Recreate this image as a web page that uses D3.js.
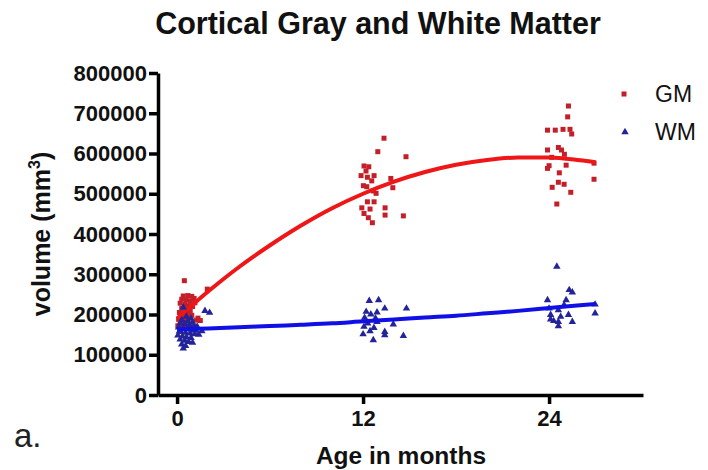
<!DOCTYPE html>
<html><head><meta charset="utf-8">
<script src="https://cdn.jsdelivr.net/npm/d3@7"></script>
<style>body{margin:0;background:#fff}svg{display:block}</style>
</head><body><svg id="c" width="708" height="470"></svg>
<script>
const chartTitle = "Cortical Gray and White Matter";
const xTicks = [0, 12, 24];
const yTicks = [0, 100000, 200000, 300000, 400000, 500000, 600000, 700000, 800000];
const seriesNames = ["GM", "WM"];

// GM (gray matter) observations: [age in months, volume mm^3]
const gmPoints = [
  [0.47,284000],[1.95,263000],[0.4,246000],[0.7,247000],[0.95,245000],[1.1,240000],
  [0.3,238000],[0.6,236000],[0.85,233000],[1.15,229000],[0.2,228000],[0.5,225000],
  [0.75,222000],[1.0,220000],[0.3,215000],[0.55,212000],[0.85,210000],[0.15,205000],
  [0.45,202000],[0.7,200000],[0.95,198000],[0.25,195000],[0.5,192000],[0.1,188000],
  [0.35,185000],[0.6,183000],[1.35,191000],[1.25,186000],[0.2,178000],[0.45,175000],
  [0.05,172000],[0.3,168000],[0.65,180000],[1.5,185000],
  [13.35,638000],[12.95,604500],[14.77,592000],[12.06,569000],[12.37,567000],[12.19,556500],
  [11.87,545000],[12.28,541000],[12.71,545000],[12.56,532000],[13.79,538000],[12.02,520000],
  [12.24,517500],[13.92,515000],[12.66,507000],[12.84,501000],[12.28,480000],[12.71,480000],
  [11.92,465000],[12.45,462000],[13.42,465000],[12.06,451000],[13.42,447000],[14.6,445000],
  [12.34,440500],[12.6,428000],
  [25.25,718000],[25.2,691000],[23.9,658000],[24.4,658000],[24.9,660000],[25.35,660000],
  [25.46,648500],[23.9,608700],[24.6,615000],[24.8,608700],[24.99,598000],[24.17,590500],
  [26.9,576000],[25.1,571000],[24.0,569700],[23.9,563000],[24.66,552000],[26.9,536000],
  [24.6,528500],[24.97,523500],[24.2,516000],[25.4,503600],[24.5,474500]
];

// WM (white matter) observations: [age in months, volume mm^3]
const wmPoints = [
  [1.8,209000],[2.1,204500],[0.4,218000],[0.6,195000],[0.9,190000],[0.3,186000],
  [0.7,184000],[1.0,180000],[0.2,178000],[0.5,176000],[0.8,174000],[1.1,172000],
  [1.3,170000],[0.1,168000],[0.4,166000],[0.65,164000],[0.95,162000],[1.2,160000],
  [1.6,159000],[0.25,157000],[0.55,155000],[0.85,153000],[1.15,151000],[0.05,148000],
  [0.35,146000],[0.6,144000],[0.9,142000],[0.2,138000],[0.5,135000],[0.75,132000],
  [1.0,130000],[0.3,126000],[0.55,122000],[0.4,116000],[1.4,150000],[0.15,158000],
  [12.4,234000],[13.0,236000],[13.4,215000],[14.8,215000],[12.2,207000],[12.9,205500],
  [12.5,200500],[12.1,192000],[12.8,190600],[12.9,182000],[12.3,178000],[13.95,175600],
  [12.06,169700],[12.7,167000],[12.45,159000],[12.0,151000],[13.4,149000],[14.6,147000],
  [12.66,136600],[13.4,157000],
  [24.5,319000],[25.3,261000],[25.5,255000],[23.9,236000],[25.1,236000],[24.97,223600],
  [24.0,215000],[24.6,211000],[26.97,225000],[24.1,199000],[24.75,194600],[25.25,199000],
  [24.3,184000],[24.6,182000],[25.5,182000],[26.97,203000],[24.6,171000],[24.1,188000]
];

// fitted curves
const fitAge = [0, 2, 4, 6, 8, 10, 12, 14, 16, 18, 20, 22, 24, 26, 27];
const gmFitVol = [190000,257000,318000,372000,421000,464000,500000,530000,554000,572000,584000,590000,590000,583000,578000];
const wmFitVol = [163000,165400,168200,171400,174500,178000,183000,187600,192500,197000,203000,209000,216000,223000,226000];

const RED_PT = "#c41f28", RED_LN = "#ee1616", BLUE_PT = "#23239a", BLUE_LN = "#0f0fe6";
const FONT = "Liberation Sans, Arial, sans-serif";

const svg = d3.select("#c");
const x = d3.scaleLinear().domain([-1.23, 30.06]).range([158, 643]);
const y = d3.scaleLinear().domain([0, 800000]).range([395, 73]);

svg.append("text").attr("x", 378).attr("y", 34).attr("text-anchor", "middle")
  .attr("font-family", FONT).attr("font-weight", "bold")
  .attr("font-size", 30.5).attr("fill", "#111").text(chartTitle);

// axes
const yAx = svg.append("g").attr("transform", "translate(158,0)")
  .call(d3.axisLeft(y).tickValues(yTicks).tickSize(9).tickSizeOuter(0).tickPadding(2).tickFormat(d3.format("d")));
const xAx = svg.append("g").attr("transform", "translate(0,395)")
  .call(d3.axisBottom(x).tickValues(xTicks).tickSize(9).tickSizeOuter(0).tickPadding(6));
[yAx, xAx].forEach(g => {
  g.selectAll("path.domain").attr("stroke", "#000").attr("stroke-width", 3.5);
  g.selectAll(".tick line").attr("stroke", "#000").attr("stroke-width", 3.5);
  g.selectAll("text").attr("font-family", FONT)
    .attr("font-weight", "bold").attr("font-size", 22).attr("fill", "#111");
});

// axis titles
const yt = svg.append("text").attr("transform", "translate(50,234) rotate(-90)")
  .attr("text-anchor", "middle").attr("font-family", FONT)
  .attr("font-weight", "bold").attr("font-size", 25).attr("fill", "#111");
yt.append("tspan").text("volume (mm");
yt.append("tspan").attr("font-size", 16).attr("dy", -10).text("3");
yt.append("tspan").attr("dy", 10).text(")");

svg.append("text").attr("x", 401).attr("y", 464).attr("text-anchor", "middle")
  .attr("font-family", FONT).attr("font-weight", "bold")
  .attr("font-size", 24.5).attr("fill", "#111").text("Age in months");

svg.append("text").attr("x", 14).attr("y", 447)
  .attr("font-family", FONT)
  .attr("font-size", 33).attr("fill", "#222").text("a.");

const line = d3.line().x(d => x(d[0])).y(d => y(d[1])).curve(d3.curveMonotoneX);
const sq = 5;

// GM points and curve
svg.append("g").selectAll("rect").data(gmPoints).join("rect")
  .attr("x", d => x(d[0]) - sq / 2).attr("y", d => y(d[1]) - sq / 2)
  .attr("width", sq).attr("height", sq).attr("fill", RED_PT);
svg.append("path").datum(fitAge.map((a, i) => [a, gmFitVol[i]]))
  .attr("d", line).attr("fill", "none").attr("stroke", RED_LN).attr("stroke-width", 4);

// WM points and curve
const tri = d3.symbol(d3.symbolTriangle).size(24);
svg.append("g").selectAll("path").data(wmPoints).join("path")
  .attr("d", tri).attr("transform", d => `translate(${x(d[0])},${y(d[1])})`).attr("fill", BLUE_PT);
svg.append("path").datum(fitAge.map((a, i) => [a, wmFitVol[i]]))
  .attr("d", line).attr("fill", "none").attr("stroke", BLUE_LN).attr("stroke-width", 4);

// legend
const lg = svg.append("g");
lg.append("rect").attr("x", 624 - sq / 2).attr("y", 94 - sq / 2).attr("width", sq).attr("height", sq).attr("fill", RED_PT);
lg.append("path").attr("d", tri).attr("transform", "translate(625,132)").attr("fill", BLUE_PT);
seriesNames.forEach((n, i) => {
  lg.append("text").attr("x", 655).attr("y", 94 + i * 38).attr("dy", "0.35em")
    .attr("font-family", FONT).attr("font-size", 23)
    .attr("fill", "#111").text(n);
});
</script></body></html>
